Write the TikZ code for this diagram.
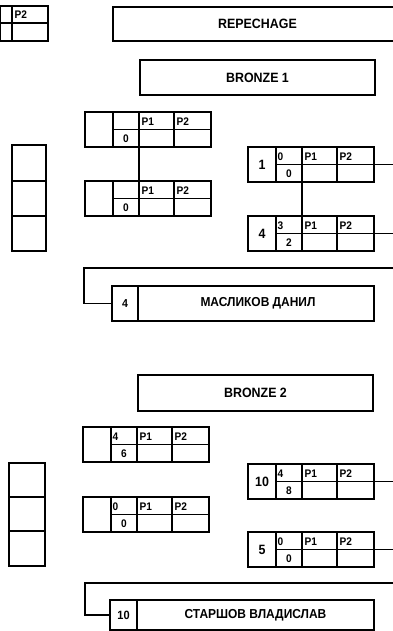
\documentclass[tikz,border=0pt]{standalone}
\usepackage{fontspec}
\setmainfont{Liberation Sans}
\newfontfamily\nf[FakeStretch=0.92]{Liberation Sans}
\newcommand{\bout}[6]{%
 \node[boxst,anchor=north west] (#1) at (#2,#3) {};
 \draw[ln] (#2+28,#3) -- (#2+28,#3+35)
   (#2+54,#3) -- (#2+54,#3+35)
   (#2+89,#3) -- (#2+89,#3+35)
   (#2+28,#3+17.5) -- (#2+126,#3+17.5);
 \node[sd] (#1-seed) at (#2+14,#3+18) {#4};
 \node[pl,anchor=west] (#1-top) at (#2+29.5,#3+9.5) {#5};
 \node[pl] (#1-bot) at (#2+41,#3+26.5) {#6};
 \node[pl,anchor=west] (#1-p1) at (#2+56.5,#3+9.5) {P1};
 \node[pl,anchor=west] (#1-p2) at (#2+91.5,#3+9.5) {P2};
 \coordinate (#1-ct) at (#2+54,#3);
 \coordinate (#1-cb) at (#2+54,#3+35);
}
\begin{document}
\begin{tikzpicture}[x=1pt,y=-1pt,
 ln/.style={line width=1.4pt},
 boxst/.style={draw,line width=1.4pt,rectangle,inner sep=0pt,outer sep=0pt,minimum width=126pt,minimum height=35pt},
 ttlbox/.style={draw,line width=1.4pt,rectangle,inner sep=0pt,outer sep=0pt,anchor=north west,font=\nf\bfseries\fontsize{13.5}{14}\selectfont},
 pl/.style={font=\nf\bfseries\fontsize{11}{12}\selectfont,inner sep=0pt},
 sd/.style={font=\nf\bfseries\fontsize{13.5}{14}\selectfont,inner sep=0pt},
 nm/.style={font=\nf\bfseries\fontsize{13}{14}\selectfont,inner sep=0pt},
 namebox/.style={draw,line width=1.4pt,rectangle,inner sep=0pt,outer sep=0pt,anchor=north west}]
\useasboundingbox (0,0) rectangle (393,631);
\clip (0,0) rectangle (393,631);
\coordinate (rim) at (396,0);

% top-left partial box
\draw[ln] (0.7,6) rectangle (48,41) (12,6) -- (12,41) (0.7,23) -- (48,23);
\node[pl,anchor=west] (tp2) at (14.5,14.5) {P2};

% titles
\node[ttlbox,minimum width=289pt,minimum height=34pt] (rep) at (113,7) {REPECHAGE};
\node[ttlbox,minimum width=235pt,minimum height=35pt] (br1) at (140,60) {BRONZE 1};
\node[ttlbox,minimum width=235pt,minimum height=36pt] (br2) at (138,375) {BRONZE 2};

% left columns
\draw[ln] (12,145) rectangle (46,251) (12,181) -- (46,181) (12,216) -- (46,216);
\draw[ln] (9,463) rectangle (45,566) (9,497) -- (45,497) (9,531) -- (45,531);

% bronze 1 matches
\bout{ul}{85}{112}{}{}{0}
\bout{ll}{85}{181}{}{}{0}
\draw[ln] (ul-cb) -- (ll-ct);
\bout{ra}{248}{147}{1}{0}{0}
\bout{rb}{248}{216}{4}{3}{2}
\draw[ln] (ra-cb) -- (rb-ct);
\draw[ln] (ra.east) -- (ra.east -| rim);
\draw[ln] (rb.east) -- (rb.east -| rim);

% winner 1
\node[namebox,minimum width=262pt,minimum height=35pt] (n1) at (112,286) {};
\draw[ln] (138,286) -- (138,321);
\node[pl,font=\nf\bfseries\fontsize{11.5}{12}\selectfont] (n1s) at (125,303.5) {4};
\node[nm] (n1n) at (258,303.5) {МАСЛИКОВ ДАНИЛ};
\coordinate (k1) at (396,268);
\coordinate (k1c) at (84,268);
\draw[ln] (k1) -- (k1c) |- (n1.west);

% bronze 2 matches
\bout{bl}{83}{427}{}{4}{6}
\bout{bm}{83}{497}{}{0}{0}
\bout{rc}{248}{464}{10}{4}{8}
\bout{rd}{248}{532}{5}{0}{0}
\draw[ln] (rc.east) -- (rc.east -| rim);
\draw[ln] (rd.east) -- (rd.east -| rim);

% winner 2
\node[namebox,minimum width=264pt,minimum height=30pt] (n2) at (110,600) {};
\draw[ln] (137,600) -- (137,630);
\node[pl,font=\nf\bfseries\fontsize{12}{13}\selectfont] (n2s) at (123.5,615) {10};
\node[nm] (n2n) at (255.5,615) {СТАРШОВ ВЛАДИСЛАВ};
\coordinate (k2) at (396,583);
\coordinate (k2c) at (85,583);
\draw[ln] (k2) -- (k2c) |- (n2.west);
\end{tikzpicture}
\end{document}
